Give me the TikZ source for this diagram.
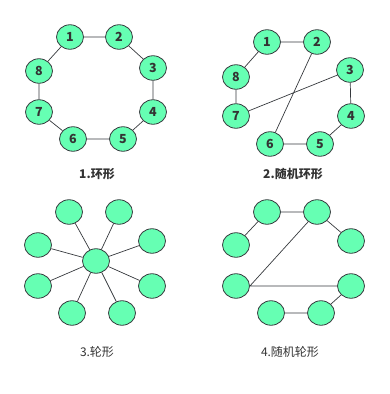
\documentclass[tikz,border=0pt]{standalone}
\usepackage{fontspec}
\setmainfont{Noto Sans CJK SC}
\usetikzlibrary{shapes.geometric}
\definecolor{nodefill}{HTML}{66FFB3}
\definecolor{nodeline}{HTML}{36393D}
\definecolor{txt}{HTML}{333333}
\begin{document}
\begin{tikzpicture}[x=1pt,y=-1pt,
  nd/.style={ellipse,draw=nodeline,fill=nodefill,line width=0.8pt,minimum width=27pt,minimum height=24.5pt,inner sep=0pt,font=\fontsize{12.5}{12.5}\selectfont\bfseries,text=txt},
  ln/.style={draw=nodeline,line width=0.7pt},
  captxt/.style={font=\fontsize{12}{12}\selectfont,text=txt},
  capbold/.style={font=\fontsize{12}{12}\selectfont\bfseries,text=txt}]
\useasboundingbox (0,0) rectangle (389,394);
% panel 1
\node[nd] (a1) at (70,37) {1};
\node[nd] (a2) at (119,37) {2};
\node[nd] (a3) at (153,68) {3};
\node[nd] (a4) at (153,112) {4};
\node[nd] (a5) at (123,139) {5};
\node[nd] (a6) at (73,139) {6};
\node[nd] (a7) at (39,112) {7};
\node[nd] (a8) at (39,71) {8};
\draw[ln] (a1)--(a2) (a2)--(a3) (a3)--(a4) (a4)--(a5) (a5)--(a6) (a6)--(a7) (a7)--(a8) (a8)--(a1);
\node[capbold] (c1) at (97,174) {1.环形};
% panel 2
\node[nd] (b1) at (267,42) {1};
\node[nd] (b2) at (317,42) {2};
\node[nd] (b3) at (350,70) {3};
\node[nd] (b4) at (351,116) {4};
\node[nd] (b5) at (320,144) {5};
\node[nd] (b6) at (270,144) {6};
\node[nd] (b7) at (236,116) {7};
\node[nd] (b8) at (236,77) {8};
\draw[ln] (b1)--(b2) (b1)--(b8) (b8)--(b7) (b7)--(b3) (b3)--(b4) (b4)--(b5) (b5)--(b6) (b6)--(b2);
\node[capbold] (c2) at (293,174) {2.随机环形};
% panel 3
\node[nd] (w0) at (96,261) {};
\node[nd] (w1) at (69,212) {};
\node[nd] (w2) at (119,212) {};
\node[nd] (w3) at (152,241) {};
\node[nd] (w4) at (152,286) {};
\node[nd] (w5) at (122,313) {};
\node[nd] (w6) at (72,313) {};
\node[nd] (w7) at (38,286) {};
\node[nd] (w8) at (38,245) {};
\foreach \i in {1,...,8} \draw[ln] (w0)--(w\i);
\node[captxt] (c3) at (97,352) {3.轮形};
% panel 4
\node[nd] (r1) at (267,212) {};
\node[nd] (r2) at (317,212) {};
\node[nd] (r3) at (351,241) {};
\node[nd] (r4) at (351,286) {};
\node[nd] (r5) at (321,313) {};
\node[nd] (r6) at (271,313) {};
\node[nd] (r7) at (236,286) {};
\node[nd] (r8) at (236,245) {};
\draw[ln] (r1)--(r2) (r1)--(r8) (r2)--(r3) (r2)--(r7.east) (r7)--(r4) (r4)--(r5) (r5)--(r6);
\node[captxt] (c4) at (290,352) {4.随机轮形};
\end{tikzpicture}
\end{document}
